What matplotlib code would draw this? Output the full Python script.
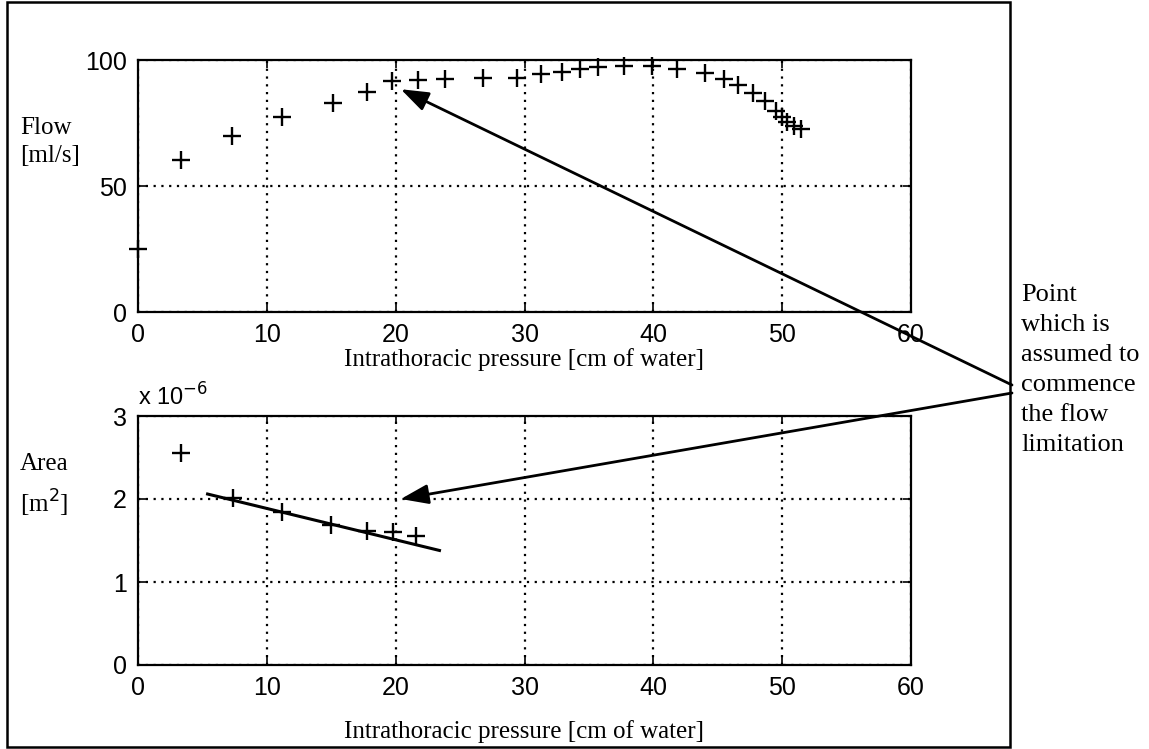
import matplotlib
matplotlib.use("Agg")
import matplotlib.pyplot as plt
from matplotlib.patches import Rectangle

# Flow versus intrathoracic pressure
flow_pressure = [0, 3.3, 7.3, 11.2, 15.1, 17.8, 19.7, 21.7, 23.8, 26.8, 29.4,
                 31.3, 32.9, 34.3, 35.7, 37.7, 39.9, 41.8, 44.0, 45.5, 46.6,
                 47.7, 48.7, 49.5, 50.0, 50.4, 50.9, 51.5]
flow = [25, 60.5, 69.8, 77.2, 83.1, 87.5, 91.5, 92.1, 92.4, 93.0, 93.0,
        94.4, 95.3, 96.4, 97.1, 97.7, 97.7, 96.4, 94.8, 92.4, 90.0,
        87.1, 83.8, 79.8, 77.2, 75.2, 73.8, 72.5]

# Cross-sectional area (in units of 1e-6 m^2)
area_pressure = [3.3, 7.4, 11.2, 15.0, 17.8, 19.8, 21.6]
area = [2.55, 2.01, 1.84, 1.69, 1.62, 1.60, 1.56]

# Straight-line fit through the area points
fit_pressure = [5.4, 23.4]
fit_area = [2.06, 1.38]

# Onset of flow limitation
onset_flow = (20.4, 88.4)
onset_area = (20.4, 2.0)

x_ticks = [0, 10, 20, 30, 40, 50, 60]
flow_ticks = [0, 50, 100]
area_ticks = [0, 1, 2, 3]

SERIF = "Liberation Serif"
SANS = "Liberation Sans"

fig = plt.figure(figsize=(11.49, 7.49), dpi=100)
W, H = 1149, 749


def px_axes(left, top, right, bottom):
    return fig.add_axes([left / W, 1 - bottom / H, (right - left) / W, (bottom - top) / H])


ax1 = px_axes(138, 60, 911, 312)
ax2 = px_axes(138, 416, 911, 665)

for ax, lpad in ((ax1, 1), (ax2, 14)):
    ax.set_xlim(0, 60)
    ax.set_xticks(x_ticks)
    ax.grid(True, linestyle=(0, (1, 2.5)), color="black", linewidth=1.6)
    ax.tick_params(direction="in", length=6, width=1.2, top=True, right=True,
                   labelsize=18, pad=8)
    for sp in ax.spines.values():
        sp.set_linewidth(1.6)
    ax.set_xlabel("Intrathoracic pressure [cm of water]", fontfamily=SERIF,
                  fontsize=18, labelpad=lpad)

ax1.set_ylim(0, 100)
ax1.set_yticks(flow_ticks)
ax1.plot(flow_pressure, flow, linestyle="none", marker="+", markersize=13,
         markeredgewidth=1.7, color="black", clip_on=False)

ax2.set_ylim(0, 3)
ax2.set_yticks(area_ticks)
ax2.plot(area_pressure, area, linestyle="none", marker="+", markersize=13,
         markeredgewidth=1.7, color="black")
ax2.plot(fit_pressure, fit_area, color="black", linewidth=2.2)

for ax in (ax1, ax2):
    for lab in ax.get_xticklabels() + ax.get_yticklabels():
        lab.set_fontfamily(SANS)

ax2.text(0.0, 1.02, r"x 10$^{-6}$", transform=ax2.transAxes, fontfamily=SANS,
         fontsize=17, ha="left", va="bottom")

fig.text(20 / W, 1 - 142 / H, "Flow\n[ml/s]", fontfamily=SERIF, fontsize=18,
         ha="left", va="center", linespacing=1.3)
fig.text(20 / W, 1 - 486 / H, "Area\n[m$^2$]", fontfamily=SERIF, fontsize=18,
         ha="left", va="center", linespacing=1.5)

fig.text(1021 / W, 1 - 284 / H,
         "Point\nwhich is\nassumed to\ncommence\nthe flow\nlimitation",
         fontfamily=SERIF, fontsize=19, ha="left", va="top", linespacing=1.47)

arrow = dict(arrowstyle="-|>,head_length=0.7,head_width=0.25", color="black",
             lw=2, mutation_scale=24, shrinkA=0, shrinkB=0)
ax1.annotate("", xy=onset_flow, xycoords="data",
             xytext=(1012 / W, 1 - 385 / H), textcoords="figure fraction",
             arrowprops=arrow, annotation_clip=False)
ax2.annotate("", xy=onset_area, xycoords="data",
             xytext=(1012 / W, 1 - 393 / H), textcoords="figure fraction",
             arrowprops=arrow, annotation_clip=False)

fig.patches.append(Rectangle((7 / W, 1 - 747 / H), (1010 - 7) / W, (747 - 2) / H,
                             transform=fig.transFigure, fill=False,
                             edgecolor="black", linewidth=1.8))

fig.savefig("out.png", dpi=100)
